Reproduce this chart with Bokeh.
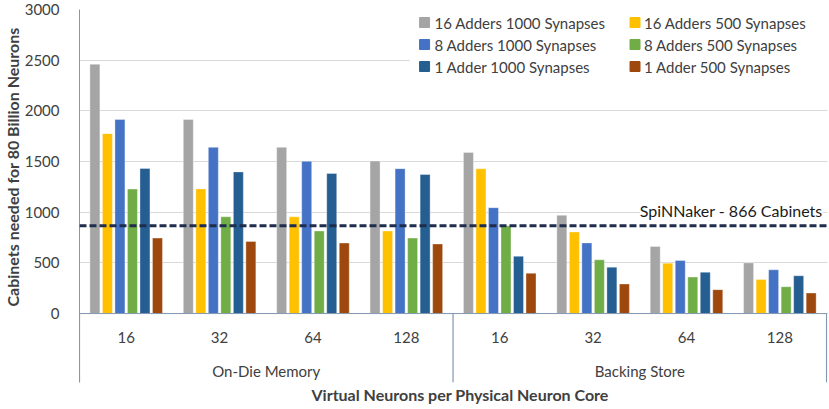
import numpy as np
from bokeh.plotting import figure
from bokeh.models import ColumnDataSource, Span, Label, FixedTicker, Range1d, Title
from bokeh.embed import file_html
from bokeh.resources import INLINE
from bokeh.core.properties import value

# ---------------- data ----------------
groups = ["On-Die Memory", "Backing Store"]
sub_labels = ["16", "32", "64", "128"]
series_names = ["16 Adders 1000 Synapses", "16 Adders 500 Synapses",
                "8 Adders 1000 Synapses", "8 Adders 500 Synapses",
                "1 Adder 1000 Synapses", "1 Adder 500 Synapses"]
colors = ["#A5A5A5", "#FFC000", "#4472C4", "#70AD47", "#255E91", "#9E480E"]

s16a1000 = [2460, 1915, 1640, 1505, 1590, 970, 662, 500]
s16a500 = [1775, 1230, 955, 815, 1428, 805, 497, 335]
s8a1000 = [1915, 1640, 1502, 1430, 1045, 697, 523, 432]
s8a500 = [1228, 955, 815, 745, 866, 530, 360, 265]
s1a1000 = [1432, 1398, 1382, 1372, 565, 458, 408, 373]
s1a500 = [745, 712, 696, 687, 398, 292, 236, 203]
series_values = [s16a1000, s16a500, s8a1000, s8a500, s1a1000, s1a500]

spinnaker_cabinets = 866
spinnaker_label = "SpiNNaker - 866 Cabinets"
y_ticks = [0, 500, 1000, 1500, 2000, 2500, 3000]
x_title = "Virtual Neurons per Physical Neuron Core"
y_title = "Cabinets needed for 80 Billion Neurons"

# ---------------- figure geometry ----------------
FONT = "Lato"
TXT = "#404040"
AXIS = "#8497B0"

W, H = 829, 409
BL, BR, BT, BB = 77, 2, 9, 27
n_cat = len(groups) * len(sub_labels)
X_MAX = n_cat + 0.01
Y_MIN, Y_MAX = -680, 3000


def px_to_x(px):
    return (px - BL) * X_MAX / (W - BL - BR)


def py_to_y(py):
    return Y_MAX - (py - BT) * (Y_MAX - Y_MIN) / (H - BT - BB)


p = figure(width=W, height=H, output_backend="svg", toolbar_location=None,
           x_range=Range1d(0, X_MAX), y_range=Range1d(Y_MIN, Y_MAX),
           x_axis_location=None,
           min_border_left=BL, min_border_right=BR, min_border_top=BT, min_border_bottom=BB)
p.outline_line_color = None
p.background_fill_color = "white"
p.xgrid.grid_line_color = None
p.ygrid.grid_line_color = "#D9D9D9"
p.ygrid.ticker = FixedTicker(ticks=y_ticks)

yax = p.yaxis[0]
yax.ticker = FixedTicker(ticks=y_ticks)
yax.major_tick_line_color = None
yax.minor_tick_line_color = None
yax.axis_line_color = AXIS
yax.major_label_text_font = FONT
yax.major_label_text_font_size = "15px"
yax.major_label_text_color = TXT
yax.major_label_standoff = 14

# axis titles as side titles
p.add_layout(Title(text=y_title, align="left", offset=76, text_font=FONT,
                   text_font_size="16px", text_font_style="bold", text_color=TXT,
                   standoff=0), "left")
p.add_layout(Title(text=x_title, align="left", offset=232, text_font=FONT,
                   text_font_size="16px", text_font_style="bold", text_color=TXT,
                   standoff=0), "below")

# ---------------- bars ----------------
pitch = 0.134
bar_w = 0.107
centers = np.arange(n_cat) + 0.5
for i, (name, vals, col) in enumerate(zip(series_names, series_values, colors)):
    src = ColumnDataSource(dict(x=centers + (i - 2.5) * pitch, top=vals))
    p.vbar(x="x", top="top", bottom=0, width=bar_w, source=src,
           fill_color=col, line_color="white", line_alpha=0.35, line_width=1)

# x axis line and separators
p.add_layout(Span(location=0, dimension="width", line_color=AXIS, line_width=1))
sep_x = [0, len(sub_labels), n_cat]
p.segment(x0=sep_x, x1=sep_x, y0=[0] * 3, y1=[Y_MIN] * 3, line_color=AXIS, line_width=1.2)

# category labels
cat_labels = sub_labels * len(groups)
p.text(x=list(centers), y=[0] * n_cat, text=cat_labels, text_align="center",
       text_baseline="middle", y_offset=24, text_font=value(FONT),
       text_font_size="15px", text_color=TXT)
grp_x = [len(sub_labels) * (g + 0.5) for g in range(len(groups))]
p.text(x=grp_x, y=[0] * len(groups), text=groups, text_align="center",
       text_baseline="middle", y_offset=57, text_font=value(FONT),
       text_font_size="15px", text_color=TXT)

# SpiNNaker reference line
p.add_layout(Span(location=spinnaker_cabinets, dimension="width", line_color="#1F2D4D",
                  line_width=3, line_dash="7 3"))
p.add_layout(Label(x=n_cat, y=1016, x_offset=-4, text=spinnaker_label, text_align="right",
                   text_baseline="middle", text_font=FONT, text_font_size="16px",
                   text_color="#1a1a1a", background_fill_color="white",
                   background_fill_alpha=1.0))

# ---------------- legend (2 columns x 3 rows, row-major) ----------------
p.quad(left=[px_to_x(408)], right=[X_MAX], bottom=[py_to_y(80)], top=[Y_MAX],
       fill_color="white", line_color=None)
col_sq_px = [423, 634]
col_txt_px = [433, 643]
row_py = [22, 44, 66]
leg_x, leg_y, leg_tx, leg_c = [], [], [], []
for k, name in enumerate(series_names):
    r, c = divmod(k, 2)
    leg_x.append(px_to_x(col_sq_px[c]))
    leg_tx.append(px_to_x(col_txt_px[c]))
    leg_y.append(py_to_y(row_py[r]))
    leg_c.append(colors[k])
p.scatter(x=leg_x, y=leg_y, marker="square", size=10, fill_color=leg_c, line_color=leg_c)
p.text(x=leg_tx, y=leg_y, text=series_names, text_align="left", text_baseline="middle",
       text_font=value(FONT), text_font_size="15px", text_color=TXT)

open("out.html", "w").write(file_html(p, INLINE))
